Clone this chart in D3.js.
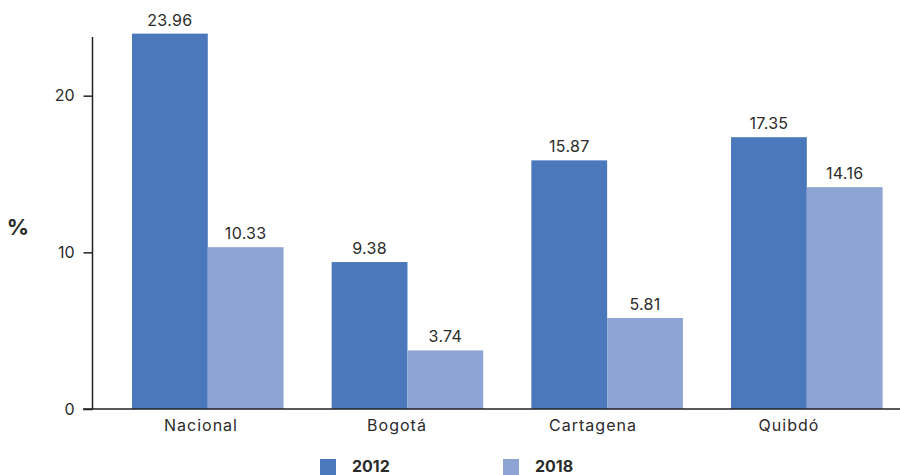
<!DOCTYPE html>
<html>
<head>
<meta charset="utf-8">
<script src="https://cdn.jsdelivr.net/npm/d3@7"></script>
<style>
  html, body { margin: 0; padding: 0; background: #fff; }
  svg { display: block; }
  text { font-family: Inter, "Open Sans", sans-serif; fill: #2b2b2b; }
</style>
</head>
<body>
<svg id="chart" width="900" height="475"></svg>
<script>
const categories = ["Nacional", "Bogotá", "Cartagena", "Quibdó"];
const seriesNames = ["2012", "2018"];
const values2012 = [23.96, 9.38, 15.87, 17.35];
const values2018 = [10.33, 3.74, 5.81, 14.16];
const yTicks = [0, 10, 20];
const colors = ["#4a78bb", "#8ea4d2"];

const svg = d3.select("#chart");
const y = d3.scaleLinear().domain([0, 24]).range([409, 33]);
const x0 = d3.scaleBand().domain(categories).range([132, 882.6]).paddingInner(0.241).paddingOuter(0);
const x1 = d3.scaleBand().domain(seriesNames).range([0, x0.bandwidth()]).padding(0);
const xLabel = d3.scalePoint().domain(categories).range([201, 789]);

const data = categories.map((c, i) => ({
  cat: c,
  vals: [{s: "2012", v: values2012[i]}, {s: "2018", v: values2018[i]}]
}));

// bars
const g = svg.append("g");
const groups = g.selectAll("g.grp").data(data).enter().append("g")
  .attr("transform", d => `translate(${x0(d.cat)},0)`);
groups.selectAll("rect").data(d => d.vals).enter().append("rect")
  .attr("x", d => x1(d.s))
  .attr("width", x1.bandwidth())
  .attr("y", d => y(d.v))
  .attr("height", d => y(0) - y(d.v))
  .attr("fill", (d, i) => colors[i]);
groups.selectAll("text").data(d => d.vals).enter().append("text")
  .attr("x", d => x1(d.s) + x1.bandwidth() / 2)
  .attr("y", d => y(d.v) - 8)
  .attr("text-anchor", "middle")
  .style("font-size", "16px")
  .style("letter-spacing", "0.3px")
  .text(d => d.v.toFixed(2));

// y axis
const yAxis = d3.axisLeft(y).tickValues(yTicks).tickSize(9).tickPadding(9).tickFormat(d3.format("d"));
const ya = svg.append("g").attr("transform", "translate(92.5,0)").call(yAxis);
ya.select(".domain").remove();
ya.selectAll(".tick line").attr("stroke", "#222").attr("stroke-width", 1.5);
ya.selectAll(".tick text").style("font-size", "16px").attr("fill", "#2b2b2b").style("font-family", "Inter, sans-serif");
svg.append("line").attr("x1", 92.5).attr("x2", 92.5).attr("y1", 37).attr("y2", y(0))
  .attr("stroke", "#222").attr("stroke-width", 1.5);

// x axis labels
svg.append("g").selectAll("text").data(categories).enter().append("text")
  .attr("x", d => xLabel(d))
  .attr("y", 431)
  .attr("text-anchor", "middle")
  .style("font-size", "16px")
  .style("letter-spacing", "1px")
  .text(d => d);
svg.append("line").attr("x1", 83).attr("x2", 900).attr("y1", y(0)).attr("y2", y(0))
  .attr("stroke", "#222").attr("stroke-width", 1.5);

// y title
svg.append("text").attr("x", 18).attr("y", 235).attr("text-anchor", "middle")
  .style("font-size", "22px").style("font-weight", "bold").text("%");

// legend
const legendX = [320, 503];
seriesNames.forEach((s, i) => {
  svg.append("rect").attr("x", legendX[i]).attr("y", 459).attr("width", 16).attr("height", 16).attr("fill", colors[i]);
  svg.append("text").attr("x", legendX[i] + 32).attr("y", 471.5)
    .style("font-size", "16px").style("font-weight", "bold").text(s);
});
</script>
</body>
</html>
